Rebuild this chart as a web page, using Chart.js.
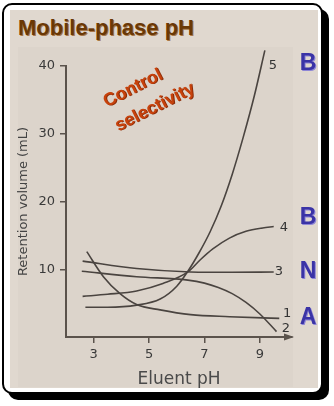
<!DOCTYPE html>
<html><head><meta charset="utf-8">
<script src="https://cdn.jsdelivr.net/npm/chart.js@4.4.1/dist/chart.umd.min.js"></script>
<style>
html,body{margin:0;padding:0;background:#fff;width:334px;height:406px;overflow:hidden;}
#frame{position:absolute;left:2px;top:3px;width:321px;height:391px;box-sizing:border-box;border:2px solid #000;border-radius:10px;background:#fff;box-shadow:6px 6px 0 #000;}
#bg{position:absolute;left:10px;top:10px;width:308px;height:378px;background:#e0d8cf;}
#panel{position:absolute;left:18px;top:47px;width:275px;height:340px;background:#dcd4cb;}
#title{position:absolute;left:18px;top:15px;font:bold 22px "Liberation Sans",Arial,sans-serif;color:#6a3806;text-shadow:1px 1px 0 #a8784a;white-space:nowrap;line-height:normal;}
#wrap{position:absolute;left:10px;top:40px;width:308px;height:348px;}
</style></head>
<body>
<div id="frame"></div>
<div id="bg"></div>
<div id="panel"></div>
<div id="title">Mobile-phase pH</div>
<div id="wrap"><canvas id="c" width="308" height="348"></canvas></div>
<script>
// ---- data ----
const xTicks = [3, 5, 7, 9];
const yTicks = [10, 20, 30, 40];

const curve1pH = [2.75, 3.35, 3.95, 4.55, 5.4, 6.5, 7.9, 9.7];
const curve1Vol = [12.6, 8.9, 6.4, 4.8, 4.0, 3.3, 3.0, 2.75];

const curve2pH = [2.57, 4.55, 6.4, 7.0, 7.5, 8.0, 8.5, 9.0, 9.6];
const curve2Vol = [9.7, 8.9, 8.4, 7.95, 7.3, 6.4, 5.1, 3.4, 0.8];

const curve3pH = [2.6, 4.55, 6.5, 8.0, 9.5];
const curve3Vol = [11.2, 10.1, 9.6, 9.55, 9.6];

const curve4pH = [2.6, 3.5, 4.55, 5.5, 6.4, 6.85, 7.3, 7.9, 8.5, 9.1, 9.5];
const curve4Vol = [6.0, 6.3, 6.8, 7.9, 9.6, 11.4, 13.0, 14.6, 15.6, 16.1, 16.3];

const curve5pH = [2.7, 3.5, 4.55, 5.4, 6.0, 6.4, 6.8, 7.2, 7.6, 8.0, 8.4, 8.8, 9.18];
const curve5Vol = [4.4, 4.4, 4.7, 5.6, 7.5, 9.7, 12.4, 15.5, 19.3, 24.0, 29.5, 35.6, 42.3];

const curveLabels = ['1', '2', '3', '4', '5'];
const curveLabelpH = [9.98, 9.94, 9.69, 9.87, 9.47];
const curveLabelVol = [3.5, 1.3, 9.7, 16.2, 40.1];

const classLabels = ['B', 'B', 'N', 'A'];
const classLabelpH = [10.74, 10.74, 10.74, 10.74];
const classLabelVol = [40.4, 17.6, 9.6, 2.8];

const noteLines = ['Control', 'selectivity'];
const notepH = [4.42, 5.21];
const noteVol = [36.7, 33.9];

// ---- chart ----
const axisColor = '#5b534c';
const lineColor = '#4a4440';
const pts = (xs, ys) => xs.map((v, i) => ({x: v, y: ys[i]}));
const mk = (xs, ys, extra) => Object.assign({
  data: pts(xs, ys), borderColor: lineColor, borderWidth: 1.6,
  pointRadius: 0, cubicInterpolationMode: 'monotone', fill: false
}, extra || {});

const annot = {
  id: 'annot',
  afterDatasetsDraw(chart) {
    const {ctx, scales: {x, y}, chartArea: a} = chart;
    ctx.save();
    // axis arrow
    ctx.fillStyle = axisColor;
    ctx.beginPath();
    ctx.moveTo(a.right + 2, a.bottom);
    ctx.lineTo(a.right - 8, a.bottom - 3.5);
    ctx.lineTo(a.right - 8, a.bottom + 3.5);
    ctx.closePath();
    ctx.fill();
    // curve numbers
    ctx.font = '13px "DejaVu Sans", sans-serif';
    ctx.fillStyle = '#333';
    ctx.textAlign = 'center';
    ctx.textBaseline = 'middle';
    curveLabels.forEach((t, i) => ctx.fillText(t, x.getPixelForValue(curveLabelpH[i]), y.getPixelForValue(curveLabelVol[i])));
    // class letters
    ctx.font = 'bold 23px "Liberation Sans", Arial, sans-serif';
    classLabels.forEach((t, i) => {
      const px = x.getPixelForValue(classLabelpH[i]), py = y.getPixelForValue(classLabelVol[i]);
      ctx.fillStyle = '#8e86d6';
      ctx.fillText(t, px + 1, py + 1);
      ctx.fillStyle = '#3a33a6';
      ctx.fillText(t, px, py);
    });
    // note
    ctx.font = 'bold 18px "Liberation Sans", Arial, sans-serif';
    noteLines.forEach((t, i) => {
      ctx.save();
      ctx.translate(x.getPixelForValue(notepH[i]), y.getPixelForValue(noteVol[i]));
      ctx.rotate(-27 * Math.PI / 180);
      ctx.fillStyle = '#8a2a06';
      ctx.fillText(t, 0.8, 0.8);
      ctx.fillStyle = '#c7420c';
      ctx.fillText(t, 0, 0);
      ctx.restore();
    });
    ctx.restore();
  }
};

new Chart(document.getElementById('c'), {
  type: 'line',
  data: {
    datasets: [
      mk(curve1pH, curve1Vol),
      mk(curve2pH, curve2Vol),
      mk(curve3pH, curve3Vol),
      mk(curve4pH, curve4Vol),
      mk(curve5pH, curve5Vol, {clip: false})
    ]
  },
  options: {
    responsive: false,
    animation: false,
    events: [],
    layout: {padding: {top: 26, right: 26, left: 0, bottom: 0}},
    plugins: {legend: {display: false}, tooltip: {enabled: false}},
    scales: {
      x: {
        type: 'linear', min: 2, max: 10.16,
        afterBuildTicks: s => { s.ticks = xTicks.map(v => ({value: v})); },
        afterFit: s => { s.height = 51; },
        grid: {display: true, drawOnChartArea: false, drawTicks: true, tickLength: 6, color: axisColor, lineWidth: 1.5},
        border: {display: true, color: axisColor, width: 2},
        ticks: {color: '#3a3a3a', font: {family: '"DejaVu Sans", sans-serif', size: 13}, padding: 4, maxRotation: 0},
        title: {display: true, text: 'Eluent pH', color: '#4a4a4a', font: {family: '"DejaVu Sans", sans-serif', size: 17, lineHeight: 1}, padding: 0}
      },
      y: {
        type: 'linear', min: 0, max: 40,
        afterBuildTicks: s => { s.ticks = yTicks.map(v => ({value: v})); },
        afterFit: s => { s.width = 56; },
        grid: {display: true, drawOnChartArea: false, drawTicks: true, tickLength: 6, color: axisColor, lineWidth: 1.5},
        border: {display: true, color: axisColor, width: 2},
        ticks: {color: '#3a3a3a', font: {family: '"DejaVu Sans", sans-serif', size: 13}, padding: 5},
        title: {display: true, text: 'Retention volume (mL)', color: '#444', font: {family: '"DejaVu Sans", sans-serif', size: 13, lineHeight: 1.2}, padding: {top: 6, bottom: 0}}
      }
    }
  },
  plugins: [annot]
});
</script>
</body></html>
